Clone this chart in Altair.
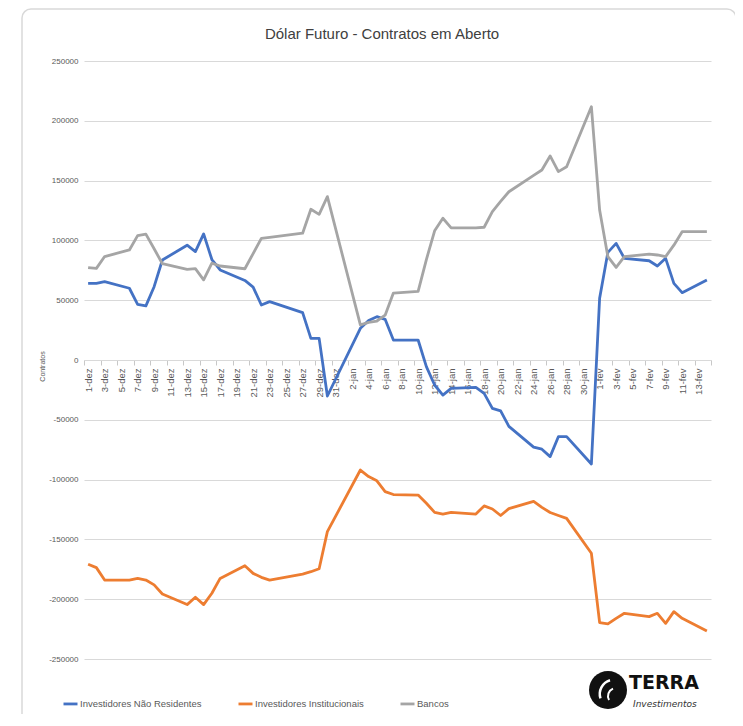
import altair as alt
import pandas as pd
from datetime import date

TITLE = "Dólar Futuro - Contratos em Aberto"
Y_TITLE = "Contratos"
SERIES = ["Investidores Não Residentes", "Investidores Institucionais", "Bancos"]
COLORS = ["#4472C4", "#ED7D31", "#A5A5A5"]

DATES = [
    "2021-12-01", "2021-12-02", "2021-12-03", "2021-12-06", "2021-12-07", "2021-12-08",
    "2021-12-09", "2021-12-10", "2021-12-13", "2021-12-14", "2021-12-15", "2021-12-16",
    "2021-12-17", "2021-12-20", "2021-12-21", "2021-12-22", "2021-12-23", "2021-12-27",
    "2021-12-28", "2021-12-29", "2021-12-30",
    "2022-01-03", "2022-01-04", "2022-01-05", "2022-01-06", "2022-01-07", "2022-01-10",
    "2022-01-11", "2022-01-12", "2022-01-13", "2022-01-14", "2022-01-17", "2022-01-18",
    "2022-01-19", "2022-01-20", "2022-01-21", "2022-01-24", "2022-01-25", "2022-01-26",
    "2022-01-27", "2022-01-28", "2022-01-31",
    "2022-02-01", "2022-02-02", "2022-02-03", "2022-02-04", "2022-02-07", "2022-02-08",
    "2022-02-09", "2022-02-10", "2022-02-11", "2022-02-14",
]

NAO_RESIDENTES = [
    64100, 64100, 65500, 60000, 46500, 45300, 61300, 83600, 96000, 90600, 105400, 84000,
    75300, 66500, 61000, 46000, 48800, 39600, 18100, 18100, -30100,
    26500, 33000, 36200, 34000, 16700, 16700, -5600, -20900, -29300, -23700, -22900, -27900,
    -40400, -42500, -55500, -72800, -74600, -80800, -64100, -64100, -87000,
    51600, 90000, 97500, 85000, 83000, 78600, 85000, 64100, 56300, 66900,
]

INSTITUCIONAIS = [
    -170800, -173600, -184000, -184000, -182600, -184000, -188000, -195700, -204500, -198400,
    -204500, -195000, -182600, -172000, -178400, -181700, -184000, -179000, -177000, -174500,
    -143500,
    -92000, -97500, -101000, -110000, -112500, -112900, -119800, -127400, -128800, -127400,
    -128800, -122000, -124600, -130000, -124300, -118200, -123200, -127500, -130000, -132400,
    -161600,
    -219600, -220700, -216000, -211800, -214600, -211800, -220200, -210400, -216000, -226600,
]

BANCOS = [
    77300, 76600, 86500, 92000, 104000, 105200, 93000, 80500, 75800, 76400, 67000, 81000,
    78600, 76300, 89000, 101700, 102600, 106000, 126000, 121800, 136600,
    29300, 31500, 32600, 37500, 56000, 57300, 84000, 108000, 118500, 110500, 110500, 111000,
    124000, 132600, 140700, 154400, 158900, 170600, 157500, 161600, 211800,
    125400, 86400, 77400, 86400, 88600, 87800, 86400, 96000, 107300, 107300,
]

TICK_LABELS = [
    "1-dez", "3-dez", "5-dez", "7-dez", "9-dez", "11-dez", "13-dez", "15-dez", "17-dez",
    "19-dez", "21-dez", "23-dez", "25-dez", "27-dez", "29-dez", "31-dez",
    "2-jan", "4-jan", "6-jan", "8-jan", "10-jan", "12-jan", "14-jan", "16-jan", "18-jan",
    "20-jan", "22-jan", "24-jan", "26-jan", "28-jan", "30-jan",
    "1-fev", "3-fev", "5-fev", "7-fev", "9-fev", "11-fev", "13-fev",
]
Y_TICKS = [250000, 200000, 150000, 100000, 50000, 0, -50000, -100000, -150000, -200000, -250000]

START = date(2021, 12, 1)
N_DAYS = 76

rows = []
for serie, vals in zip(SERIES, [NAO_RESIDENTES, INSTITUCIONAIS, BANCOS]):
    for ds, v in zip(DATES, vals):
        d = date.fromisoformat(ds)
        rows.append({"serie": serie, "dia": (d - START).days + 0.5, "valor": v})
df = pd.DataFrame(rows)

W, H = 627, 598
ZERO_OFFSET = -H / 2
SANS = "Liberation Sans, Arial, sans-serif"

label_array = "[" + ",".join("'" + t + "'" for t in TICK_LABELS) + "]"
x_label_expr = label_array + "[round(datum.value / 2)] || ''"

lines = alt.Chart(df).mark_line(strokeWidth=2.8, strokeJoin="round").encode(
    x=alt.X(
        "dia:Q",
        scale=alt.Scale(domain=[0, N_DAYS], nice=False, zero=False),
        axis=alt.Axis(
            values=list(range(0, N_DAYS + 1, 2)),
            labelExpr=x_label_expr,
            labelAngle=270,
            labelOffset=4.1,
            labelFlush=False,
            labelOverlap=False,
            labelFont=SANS,
            labelFontSize=9.5,
            labelColor="#595959",
            labelPadding=3,
            tickSize=5,
            tickColor="#c8c8c8",
            domainColor="#d9d9d9",
            offset=ZERO_OFFSET,
            grid=False,
            title=None,
        ),
    ),
    y=alt.Y(
        "valor:Q",
        scale=alt.Scale(domain=[-250000, 250000], nice=False),
        axis=alt.Axis(
            values=Y_TICKS,
            labelExpr="datum.value + ''",
            labelFont=SANS,
            labelFontSize=8,
            labelColor="#595959",
            ticks=False,
            tickSize=0,
            labelPadding=6,
            domain=False,
            grid=True,
            gridColor="#d9d9d9",
            gridWidth=1,
            title=Y_TITLE,
            titleFont=SANS,
            titleFontSize=7,
            titleFontWeight="normal",
            titleColor="#595959",
            titleX=-42,
            titleY=305,
            titleAngle=270,
            titleAlign="center",
            titleBaseline="middle",
        ),
    ),
    color=alt.Color(
        "serie:N",
        scale=alt.Scale(domain=SERIES, range=COLORS),
        legend=alt.Legend(
            orient="none",
            legendX=-22,
            legendY=634,
            direction="horizontal",
            title=None,
            symbolType="stroke",
            symbolSize=196,
            symbolStrokeWidth=2.8,
            labelFont=SANS,
            labelFontSize=9.5,
            labelColor="#595959",
            labelOffset=1,
            columnPadding=30,
        ),
    ),
)

one = alt.Data(values=[{"t": TITLE}])

title = alt.Chart(one).mark_text(
    font=SANS, fontSize=15, color="#404040", align="center", baseline="alphabetic"
).encode(text="t:N", x=alt.value(298), y=alt.value(-22))

card = alt.Chart(one).mark_rect(
    fillOpacity=0, stroke="#d9d9d9", strokeWidth=1.5, cornerRadius=9
).encode(x=alt.value(-62), x2=alt.value(652), y=alt.value(-52), y2=alt.value(690))

logo_word = alt.Chart(alt.Data(values=[{"t": "TERRA"}])).mark_text(
    font="DejaVu Sans", fontWeight="bold", fontSize=19, color="#111111", align="left",
    baseline="alphabetic"
).encode(text="t:N", x=alt.value(545), y=alt.value(628))

logo_sub = alt.Chart(alt.Data(values=[{"t": "Investimentos"}])).mark_text(
    font="DejaVu Sans", fontStyle="italic", fontSize=9, color="#333333", align="left",
    baseline="alphabetic"
).encode(text="t:N", x=alt.value(549), y=alt.value(646))

logo_disc = alt.Chart(one).mark_arc(
    theta=0.0, theta2=6.2832, innerRadius=0, outerRadius=19, color="#111111"
).encode(x=alt.value(524), y=alt.value(629))

logo_swoosh1 = alt.Chart(one).mark_arc(
    theta=4.4, theta2=6.0, innerRadius=13, outerRadius=15.5, color="#ffffff"
).encode(x=alt.value(530), y=alt.value(633))

logo_swoosh2 = alt.Chart(one).mark_arc(
    theta=4.2, theta2=5.9, innerRadius=7, outerRadius=9, color="#ffffff"
).encode(x=alt.value(532), y=alt.value(635))

chart = alt.layer(
    card, lines, title, logo_disc, logo_swoosh1, logo_swoosh2, logo_word, logo_sub
).properties(
    width=W,
    height=H,
    padding={"left": 76, "top": 53, "right": 24, "bottom": 55},
    autosize=alt.AutoSizeParams(type="none"),
    background="white",
).configure_view(stroke=None)

chart.save("out.html", embed_options={"renderer": "svg", "actions": False})
